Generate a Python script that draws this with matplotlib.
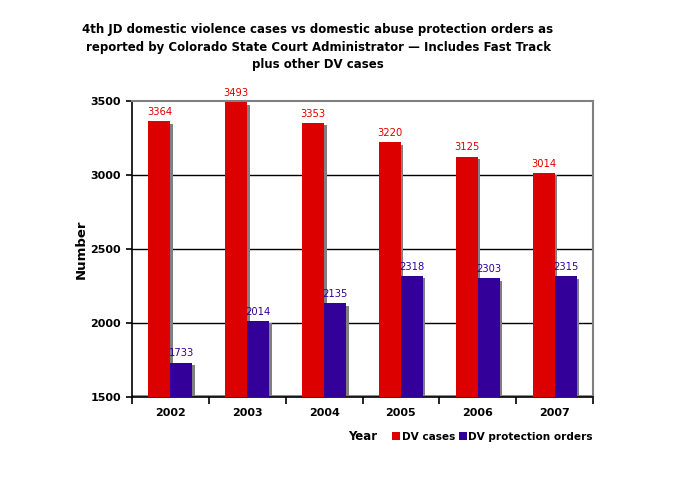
import matplotlib
matplotlib.use("Agg")
import matplotlib.pyplot as plt
import numpy as np

years = ["2002", "2003", "2004", "2005", "2006", "2007"]
dv_cases = [3364, 3493, 3353, 3220, 3125, 3014]
dv_orders = [1733, 2014, 2135, 2318, 2303, 2315]

red = "#DD0000"
blue = "#330099"
shadow = "#808080"

fig = plt.figure(figsize=(6.96, 4.8), dpi=100)
W, H = 696, 480
L, R, T, B = 132, 593, 101, 397
ax = fig.add_axes([L / W, 1 - B / H, (R - L) / W, (B - T) / H])

ymin, ymax = 1500, 3500
ax.set_xlim(0, 6)
ax.set_ylim(ymin, ymax)

x = np.arange(6) + 0.5
bw = 0.286
dx = 2.5 / ((R - L) / 6)  # shadow offset in data units (x)
dy = 2.5 * (ymax - ymin) / (B - T)

for yv in [2000, 2500, 3000]:
    ax.axhline(yv, color="black", lw=1.0, zorder=1)

# shadows
ax.bar(x - bw / 2 + dx, np.array(dv_cases) - dy - ymin, bw, bottom=ymin, align="center", color=shadow, zorder=2)
ax.bar(x + bw / 2 + dx, np.array(dv_orders) - dy - ymin, bw, bottom=ymin, align="center", color=shadow, zorder=2)
# bars
ax.bar(x - bw / 2, np.array(dv_cases) - ymin, bw, bottom=ymin, color=red, zorder=3, label="DV cases")
ax.bar(x + bw / 2, np.array(dv_orders) - ymin, bw, bottom=ymin, color=blue, zorder=3, label="DV protection orders")

for xi, v in zip(x, dv_cases):
    ax.text(xi - bw / 2, v + 28, str(v), color=red, fontsize=7.2, ha="center", va="bottom", zorder=4)
for xi, v in zip(x, dv_orders):
    ax.text(xi + bw / 2, v + 28, str(v), color=blue, fontsize=7.2, ha="center", va="bottom", zorder=4)

# floor line
ax.axhline(ymin + 8, color=shadow, lw=2, zorder=1.5)

ax.spines["top"].set_color(shadow)
ax.spines["top"].set_linewidth(1.5)
ax.spines["right"].set_color(shadow)
ax.spines["right"].set_linewidth(1.5)
ax.spines["left"].set_color("black")
ax.spines["bottom"].set_color("black")
ax.spines["left"].set_linewidth(1.2)
ax.spines["bottom"].set_linewidth(1.2)

ax.set_yticks([1500, 2000, 2500, 3000, 3500])
ax.set_yticklabels(["1500", "2000", "2500", "3000", "3500"], fontsize=8, fontweight="bold")
ax.set_xticks(np.arange(7))
ax.set_xticklabels([])
ax.set_xticks(x, minor=True)
ax.set_xticklabels(years, minor=True, fontsize=8, fontweight="bold")
ax.tick_params(axis="x", which="major", direction="out", length=5, width=1.2)
ax.tick_params(axis="x", which="minor", length=0, pad=8)
ax.tick_params(axis="y", direction="out", length=4, width=1.2, pad=4)

ax.set_ylabel("Number", fontsize=9.5, fontweight="bold", labelpad=2)

fig.text(318 / W, 1 - 23 / H,
         "4th JD domestic violence cases vs domestic abuse protection orders as\n"
         "reported by Colorado State Court Administrator \u2014 Includes Fast Track\n"
         "plus other DV cases",
         ha="center", va="top", fontsize=8.5, fontweight="bold", linespacing=1.45)

fig.text(348 / W, 1 - 437 / H, "Year", fontsize=8.5, fontweight="bold", ha="left", va="center")
leg = fig.legend(loc="center left", bbox_to_anchor=(392 / W, 1 - 437 / H), ncol=2, frameon=False,
                 fontsize=7.6, handlelength=0.75, handleheight=0.75, handletextpad=0.15, columnspacing=0.4,
                 borderpad=0, borderaxespad=0)
for t in leg.get_texts():
    t.set_fontweight("bold")

fig.savefig("out.png", dpi=100)
